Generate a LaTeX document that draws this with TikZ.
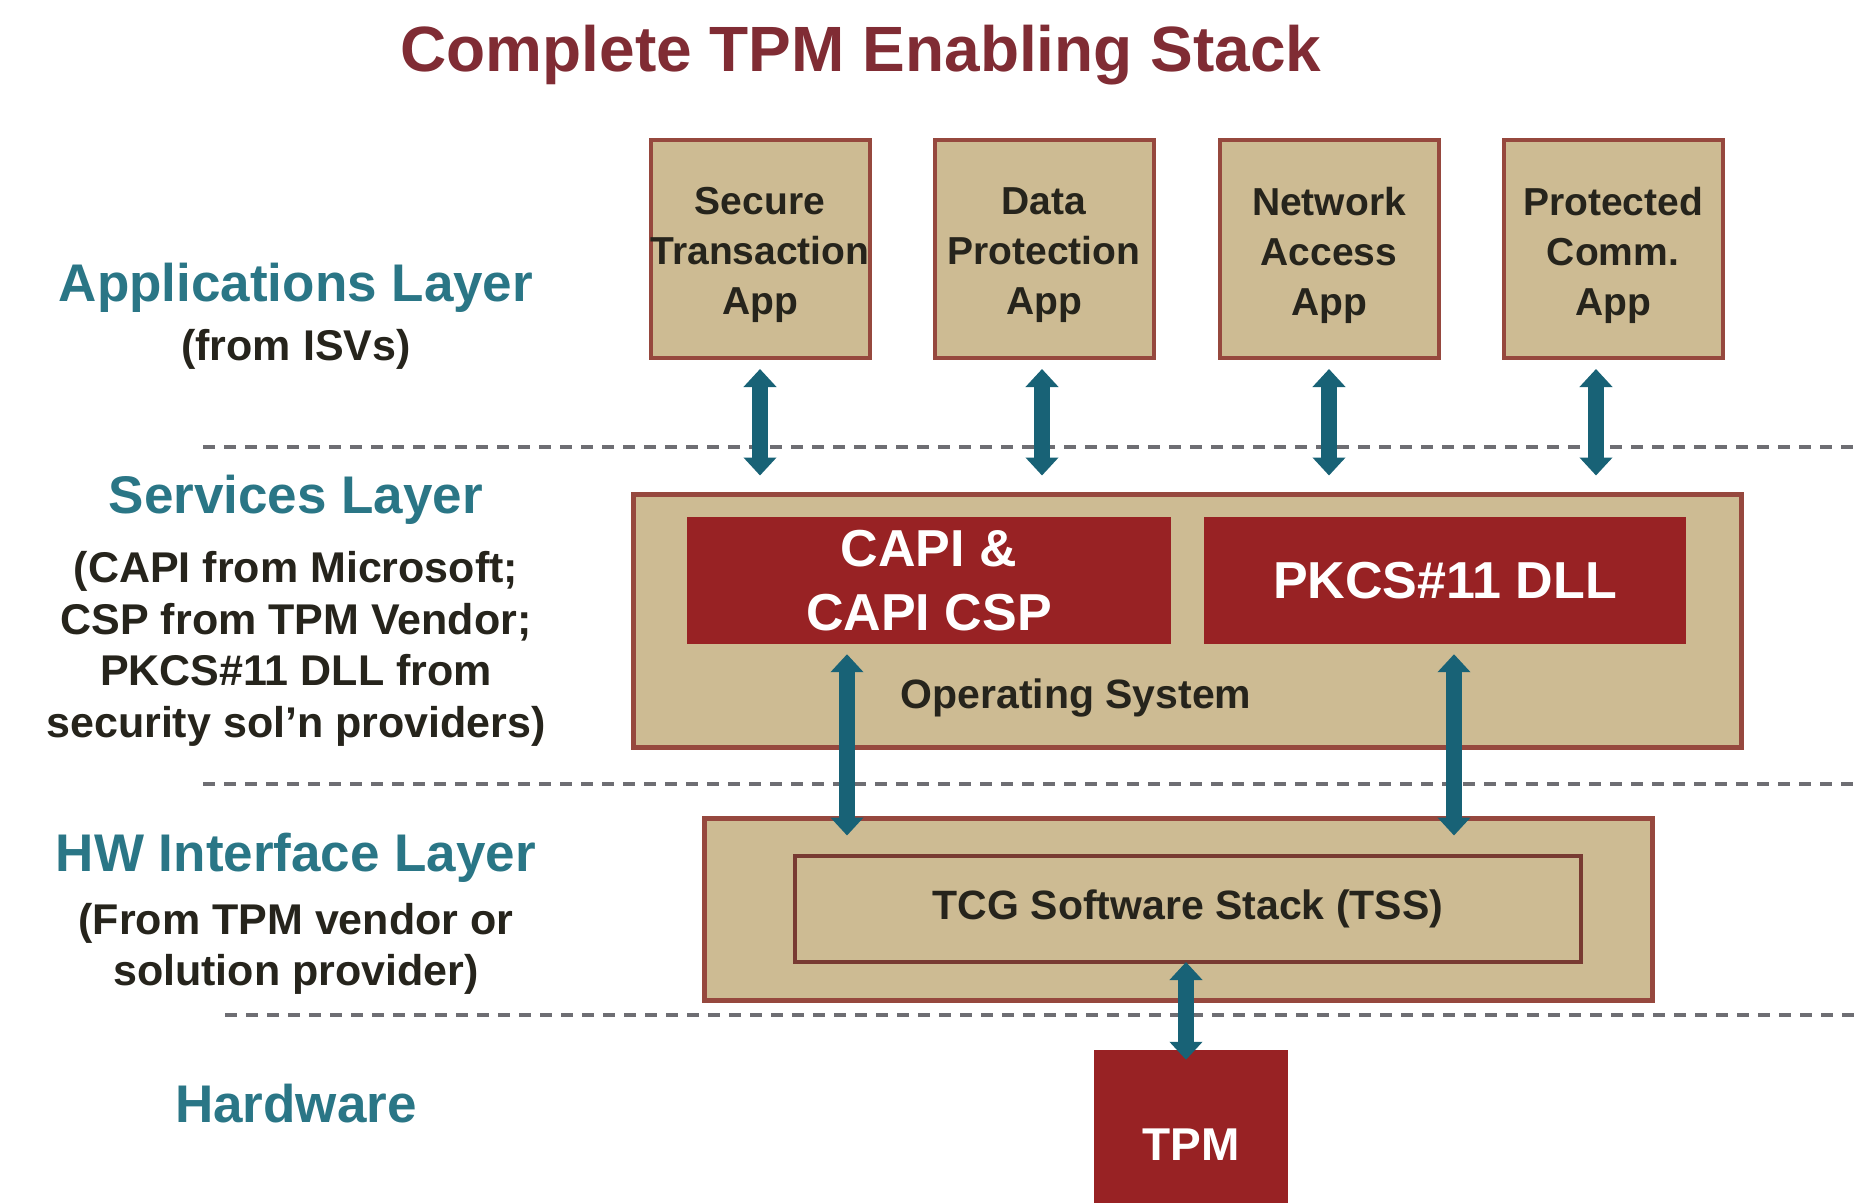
\documentclass[tikz,border=0pt]{standalone}
\usepackage{fontspec}
\setmainfont{Liberation Sans}
\usetikzlibrary{arrows.meta,calc}
\definecolor{tanfill}{RGB}{205,187,147}
\definecolor{boxedge}{RGB}{150,72,62}
\definecolor{darkred}{RGB}{152,34,36}
\definecolor{tealarrow}{RGB}{24,98,118}
\definecolor{tealtext}{RGB}{42,118,134}
\definecolor{titlered}{RGB}{128,44,52}
\definecolor{darktext}{RGB}{38,36,28}
\definecolor{dashgray}{RGB}{110,110,115}
\begin{document}
\begin{tikzpicture}[x=1pt,y=-1pt,
  apptext/.style={inner sep=0pt, align=center, text=darktext, yshift=-6pt,
    font=\fontsize{39}{50}\selectfont\bfseries},
  appbox/.style={draw=boxedge, line width=4pt, fill=tanfill, minimum width=219pt, minimum height=218pt,
    inner sep=0pt, label={[apptext]center:#1}},
  tanbox/.style={draw=boxedge, line width=5pt, fill=tanfill, inner sep=0pt},
  redbox/.style={fill=darkred, draw=none, inner sep=0pt, align=center, text=white,
    font=\fontsize{52}{64}\selectfont\bfseries},
  layerhead/.style={text=tealtext, font=\fontsize{53}{60}\selectfont\bfseries},
  layersub/.style={text=darktext, align=center, font=\fontsize{43}{51.5}\selectfont\bfseries},
  plain/.style={text=darktext, font=\fontsize{41}{50}\selectfont\bfseries},
  sep/.style={draw=dashgray, line width=4pt, dash pattern=on 12pt off 9pt},
  dbl/.style={draw=tealarrow, line width=16pt, {Triangle[width=32pt,length=18pt]}-{Triangle[width=32pt,length=18pt]}}
]
\useasboundingbox (0,0) rectangle (1854,1202);
\fill[white] (0,0) rectangle (1854,1202);

% title
\node[text=titlered, font=\fontsize{64}{70}\selectfont\bfseries] (title) at (861,55) {Complete TPM Enabling Stack};

% layer separators
\coordinate (s1l) at (203,447); \coordinate (s1r) at (1854,447);
\coordinate (s2l) at (203,784); \coordinate (s2r) at (1854,784);
\coordinate (s3l) at (225,1015); \coordinate (s3r) at (1854,1015);
\draw[sep] (s1l) -- (s1r);
\draw[sep] (s2l) -- (s2r);
\draw[sep] (s3l) -- (s3r);

% left labels
\node[layerhead] (lapp) at (296,288) {Applications Layer};
\node[layersub] (lappsub) at (296,349) {(from ISVs)};
\node[layerhead] (lsvc) at (296,500) {Services Layer};
\node[layersub] (lsvcsub) at (296,649) {(CAPI from Microsoft;\\CSP from TPM Vendor;\\PKCS\#11 DLL from\\security sol'n providers)};
\node[layerhead] (lhw) at (296,858) {HW Interface Layer};
\node[layersub] (lhwsub) at (296,949) {(From TPM vendor or\\solution provider)};
\node[layerhead] (lhard) at (296,1104) {Hardware};

% applications
\node[appbox={Secure\\Transaction\\App}] (app1) at (760,249) {};
\node[appbox={Data\\Protection\\App}] (app2) at (1044,249) {};
\node[appbox={Network\\Access\\App}] (app3) at (1329,249) {};
\node[appbox={Protected\\Comm.\\App}] (app4) at (1613,249) {};

% services layer
\node[tanbox, minimum width=1108pt, minimum height=253pt] (svc) at (1187,620.5) {};
\node[redbox, minimum width=484pt, minimum height=127pt] (capi) at (929,580.5) {CAPI \&\\CAPI CSP};
\node[redbox, minimum width=482pt, minimum height=127pt] (pkcs) at (1445,580.5) {PKCS\#11 DLL};
\node[plain] (os) at (1076,698) {Operating System};

% HW interface layer
\node[tanbox, minimum width=948pt, minimum height=182pt] (hw) at (1178,909) {};
\node[draw=boxedge!80!black, line width=4pt, fill=tanfill, minimum width=786pt, minimum height=106pt, inner sep=0pt, plain] (tss) at (1188,909) {TCG Software Stack (TSS)};

% hardware
\node[fill=darkred, minimum width=194pt, minimum height=190pt, inner sep=0pt, text=white,
  font=\fontsize{46}{50}\selectfont\bfseries] (tpm) at (1191,1145) {TPM};

% connectors
\draw[dbl] ([yshift=-9pt]app1.south) -- ([yshift=16pt]app1.south |- svc.north);
\draw[dbl] ([xshift=-2pt,yshift=-9pt]app2.south) -- ([xshift=-2pt,yshift=16pt]app2.south |- svc.north);
\draw[dbl] ([yshift=-9pt]app3.south) -- ([yshift=16pt]app3.south |- svc.north);
\draw[dbl] ([xshift=-17pt,yshift=-9pt]app4.south) -- ([xshift=-17pt,yshift=16pt]app4.south |- svc.north);
\draw[dbl] ([xshift=-82pt,yshift=-10pt]capi.south) -- ([xshift=-82pt,yshift=-20pt]capi.south |- hw.north);
\draw[dbl] ([xshift=9pt,yshift=-10pt]pkcs.south) -- ([xshift=9pt,yshift=-20pt]pkcs.south |- hw.north);
\draw[dbl] ([xshift=-2pt,yshift=2pt]tss.south) -- ([xshift=-5pt,yshift=-10pt]tpm.north);
\end{tikzpicture}
\end{document}
